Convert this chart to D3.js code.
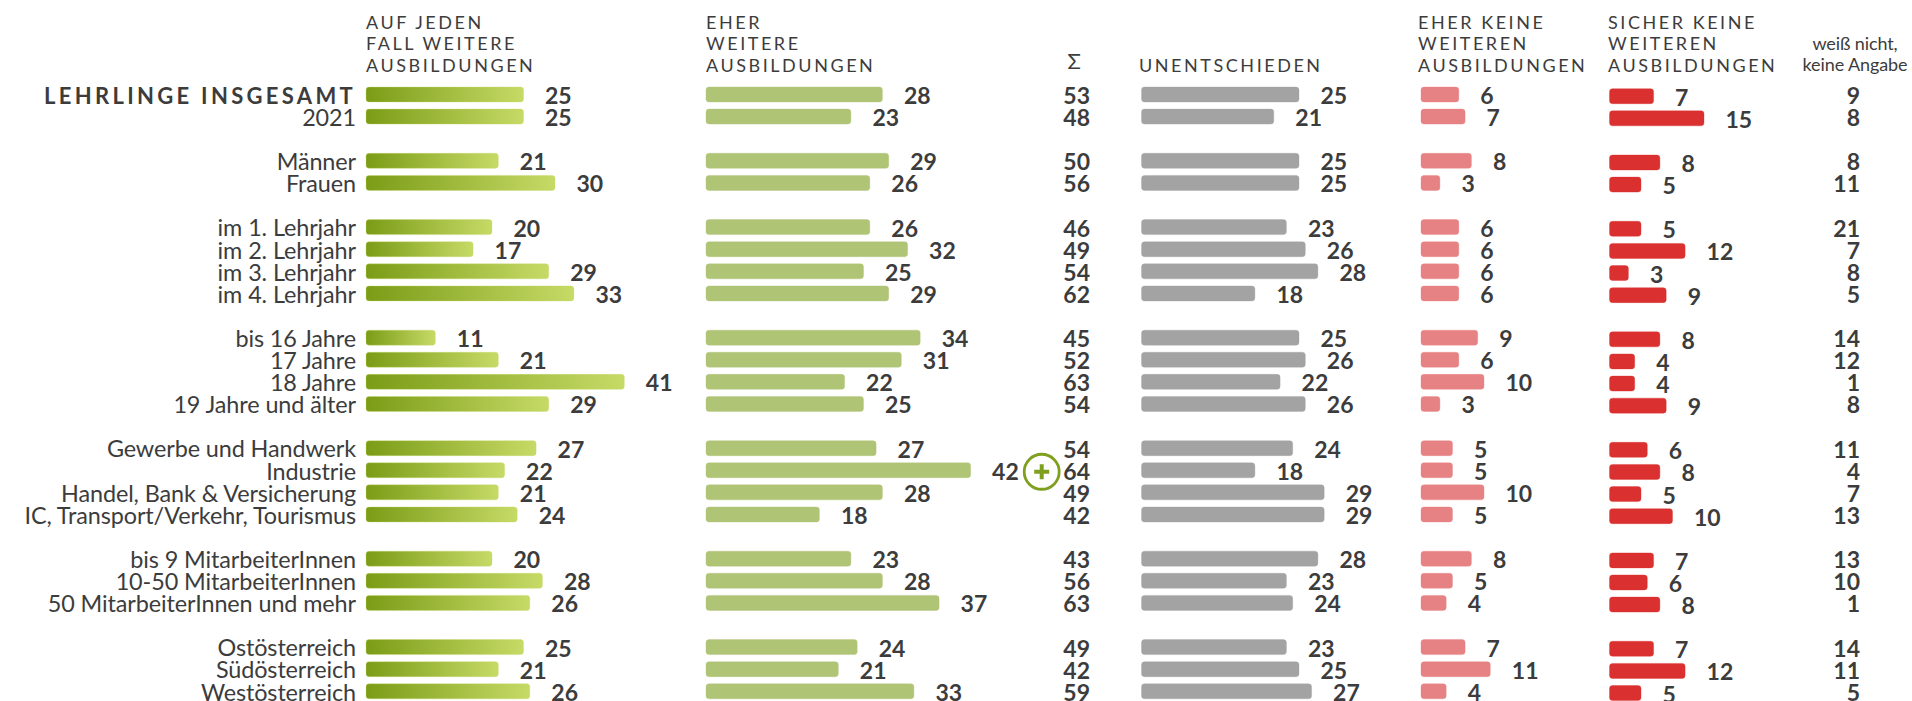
<!DOCTYPE html>
<html>
<head>
<meta charset="utf-8">
<script src="https://cdn.jsdelivr.net/npm/d3@7"></script>
<style>
  html, body { margin: 0; padding: 0; background: #fff; overflow: hidden; }
  text { font-family: Lato, "Open Sans", sans-serif; fill: #3c3c3c; }
</style>
</head>
<body>
<div class="main"></div>
<script>
// "" = empty row between the groups
var categories = ["LEHRLINGE INSGESAMT", "2021", "",
    "Männer", "Frauen", "",
    "im 1. Lehrjahr", "im 2. Lehrjahr", "im 3. Lehrjahr", "im 4. Lehrjahr", "",
    "bis 16 Jahre", "17 Jahre", "18 Jahre", "19 Jahre und älter", "",
    "Gewerbe und Handwerk", "Industrie", "Handel, Bank & Versicherung", "IC, Transport/Verkehr, Tourismus", "",
    "bis 9 MitarbeiterInnen", "10-50 MitarbeiterInnen", "50 MitarbeiterInnen und mehr", "",
    "Ostösterreich", "Südösterreich", "Westösterreich"];

var aufJeden =   [25, 25, null, 21, 30, null, 20, 17, 29, 33, null, 11, 21, 41, 29, null, 27, 22, 21, 24, null, 20, 28, 26, null, 25, 21, 26];
var eher =       [28, 23, null, 29, 26, null, 26, 32, 25, 29, null, 34, 31, 22, 25, null, 27, 42, 28, 18, null, 23, 28, 37, null, 24, 21, 33];
var summe =      [53, 48, null, 50, 56, null, 46, 49, 54, 62, null, 45, 52, 63, 54, null, 54, 64, 49, 42, null, 43, 56, 63, null, 49, 42, 59];
var unent =      [25, 21, null, 25, 25, null, 23, 26, 28, 18, null, 25, 26, 22, 26, null, 24, 18, 29, 29, null, 28, 23, 24, null, 23, 25, 27];
var eherKeine =  [6, 7, null, 8, 3, null, 6, 6, 6, 6, null, 9, 6, 10, 3, null, 5, 5, 10, 5, null, 8, 5, 4, null, 7, 11, 4];
var sicherKeine = [7, 15, null, 8, 5, null, 5, 12, 3, 9, null, 8, 4, 4, 9, null, 6, 8, 5, 10, null, 7, 6, 8, null, 7, 12, 5];
var weissNicht = [9, 8, null, 8, 11, null, 21, 7, 8, 5, null, 14, 12, 1, 8, null, 11, 4, 7, 13, null, 13, 10, 1, null, 14, 11, 5];

var headAuf = ["AUF JEDEN", "FALL WEITERE", "AUSBILDUNGEN"];
var headEher = ["EHER", "WEITERE", "AUSBILDUNGEN"];
var headUnent = ["UNENTSCHIEDEN"];
var headEherKeine = ["EHER KEINE", "WEITEREN", "AUSBILDUNGEN"];
var headSicher = ["SICHER KEINE", "WEITEREN", "AUSBILDUNGEN"];
var headWeiss = ["weiß nicht,", "keine Angabe"];

var width = 1912;
var height = 701;
var unit = 6.3;     // px per percent
var barH = 15;

var svg = d3.select(".main")
    .append("svg")
        .attr("width", width)
        .attr("height", height)
        .style("display", "block");

var y = d3.scalePoint()
    .domain(d3.range(categories.length))
    .range([94.5, 691.3]);

var grad = svg.append("defs").append("linearGradient")
    .attr("id", "green");
grad.append("stop").attr("offset", "0%").attr("stop-color", "#7b9c17");
grad.append("stop").attr("offset", "100%").attr("stop-color", "#c6da66");

function barColumn(values, x0, fill, stroke, dy) {
    let x = d3.scaleLinear().domain([0, 1]).range([x0, x0 + unit]);
    let g = svg.append("g");
    let rows = values.map((v, i) => ({ v: v, i: i })).filter(d => d.v !== null);

    g.selectAll("rect")
        .data(rows)
        .enter()
        .append("rect")
        .attr("x", x0)
        .attr("y", d => y(d.i) - barH / 2 + dy)
        .attr("width", d => x(d.v) - x0)
        .attr("height", barH)
        .attr("rx", 3)
        .style("fill", fill)
        .style("stroke", stroke)
        .style("stroke-opacity", 0.35)
        .style("stroke-width", 1);

    g.selectAll("text")
        .data(rows)
        .enter()
        .append("text")
        .attr("x", d => x(d.v) + 21.5)
        .attr("y", d => y(d.i) + 9.5 + dy)
        .style("font-size", "23px")
        .style("font-weight", 700)
        .text(d => d.v);
}

function numberColumn(values, xRight) {
    svg.append("g").selectAll("text")
        .data(values.map((v, i) => ({ v: v, i: i })).filter(d => d.v !== null))
        .enter()
        .append("text")
        .attr("x", xRight)
        .attr("y", d => y(d.i) + 9.5)
        .attr("text-anchor", "end")
        .style("font-size", "23px")
        .style("font-weight", 700)
        .text(d => d.v);
}

function header(lines, x) {
    // last line always sits at the same baseline
    svg.append("g").selectAll("text")
        .data(lines)
        .enter()
        .append("text")
        .attr("x", x)
        .attr("y", (d, i) => 71.5 - (lines.length - 1 - i) * 21.2)
        .style("font-size", "18px")
        .style("letter-spacing", "2.55px")
        .text(d => d);
}

// row labels
svg.append("g").selectAll("text")
    .data(categories.map((c, i) => ({ c: c, i: i })).filter(d => d.c !== ""))
    .enter()
    .append("text")
    .attr("x", 356)
    .attr("y", d => y(d.i) + 9.3)
    .attr("text-anchor", "end")
    .style("font-size", d => d.i === 0 ? "22px" : "23.4px")
    .style("font-weight", d => d.i === 0 ? 700 : 400)
    .style("letter-spacing", d => d.i === 0 ? "3.3px" : "-0.1px")
    .text(d => d.c);

barColumn(aufJeden, 366, "url(#green)", "#c6da66", 0);
barColumn(eher, 706, "#b0c476", "#b0c476", 0);
numberColumn(summe, 1090);
barColumn(unent, 1141.5, "#a3a3a3", "#a3a3a3", 0);
barColumn(eherKeine, 1421, "#e78284", "#e78284", 0);
barColumn(sicherKeine, 1609.5, "#db3030", "#db3030", 1.7);
numberColumn(weissNicht, 1860);

header(headAuf, 366);
header(headEher, 706);
header(headUnent, 1139);
header(headEherKeine, 1418);
header(headSicher, 1608);

svg.append("text")
    .attr("x", 1074.3)
    .attr("y", 69.3)
    .attr("text-anchor", "middle")
    .style("font-size", "22px")
    .text("Σ");

svg.append("g").selectAll("text")
    .data(headWeiss)
    .enter()
    .append("text")
    .attr("x", 1855)
    .attr("y", (d, i) => 50 + i * 21)
    .attr("text-anchor", "middle")
    .style("font-size", "18px")
    .style("letter-spacing", "-0.1px")
    .text(d => d);

// significance marker next to Industrie
var mark = svg.append("g")
    .attr("transform", "translate(1041.7," + (y(categories.indexOf("Industrie")) + 1.5) + ")");
mark.append("circle")
    .attr("r", 17.5)
    .style("fill", "#fff")
    .style("stroke", "#7f9f1e")
    .style("stroke-width", 2.8);
mark.append("path")
    .attr("d", "M-7.5,0H7.5M0,-7.5V7.5")
    .style("stroke", "#7f9f1e")
    .style("stroke-width", 4)
    .style("fill", "none");
</script>
</body>
</html>
